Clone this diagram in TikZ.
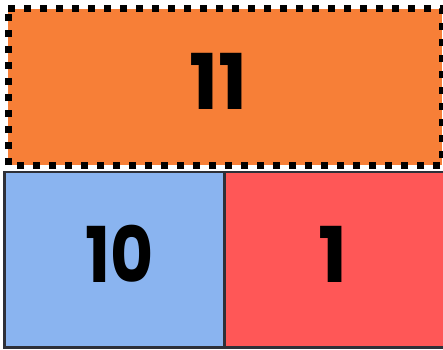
\documentclass[tikz,border=0pt]{standalone}
\usepackage{fontspec}
\setmainfont{Poppins}
\definecolor{orangefill}{HTML}{F77F37}
\definecolor{bluefill}{HTML}{8AB4F0}
\definecolor{redfill}{HTML}{FF5757}
\definecolor{edgegray}{HTML}{2E3038}
\begin{document}
\begin{tikzpicture}[x=1pt,y=1pt,
  cellbox/.style={draw=edgegray, line width=2.6pt},
  dotbox/.style={draw=black, line width=7pt, dash pattern=on 7pt off 9pt},
  numlabel/.style={font=\fontsize{77}{77}\selectfont\bfseries, text=black, inner sep=0pt, anchor=center}]
\useasboundingbox (0,0) rectangle (443,349);
\fill[white] (0,0) rectangle (443,349);
% bottom cells (y = 349 - image y)
\filldraw[cellbox, fill=bluefill] (4.7,1.5) rectangle (224.5,177);
\filldraw[cellbox, fill=redfill] (224.5,1.5) rectangle (447,177);
% top box
\fill[orangefill] (8,184) rectangle (442,340);
\draw[dotbox] (8,340) -- (442,340) -- (442,184) -- (8,184) -- cycle;
\node[numlabel] (top) at (218,267.5) {11};
\node[numlabel, xscale=0.86] (left) at (120,95) {10};
\node[numlabel] (right) at (332.5,95) {1};
\end{tikzpicture}
\end{document}
